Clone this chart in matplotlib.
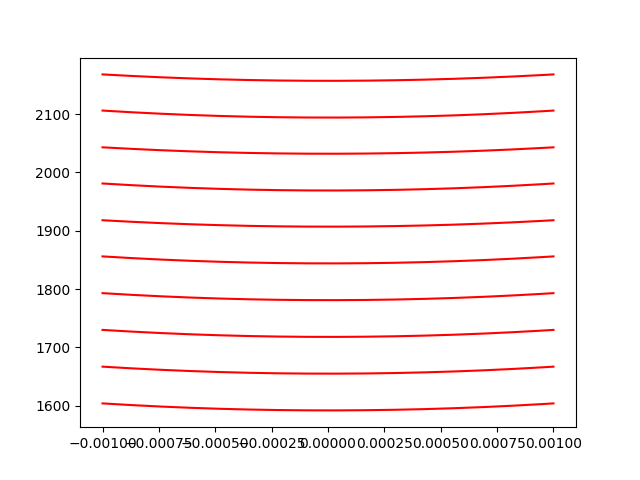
import numpy as np
import matplotlib
matplotlib.use("Agg")
import matplotlib.pyplot as plt

# values: curve value at x=0 and at the ends x=+-0.001
center_values = [1592, 1655, 1718, 1781, 1844, 1907, 1969, 2032, 2094, 2157]
edge_values = [1604, 1667, 1730, 1793, 1856, 1918, 1981, 2043, 2106, 2168]
x_limit = 0.001

x = np.linspace(-x_limit, x_limit, 201)

fig, ax = plt.subplots(figsize=(6.4, 4.8), dpi=100)

# each curve is a shallow parabola through its center and edge values
for c, e in zip(center_values, edge_values):
    curvature = (e - c) / x_limit**2
    ax.plot(x, c + curvature * x**2, color="red")

fig.savefig("out.png")
